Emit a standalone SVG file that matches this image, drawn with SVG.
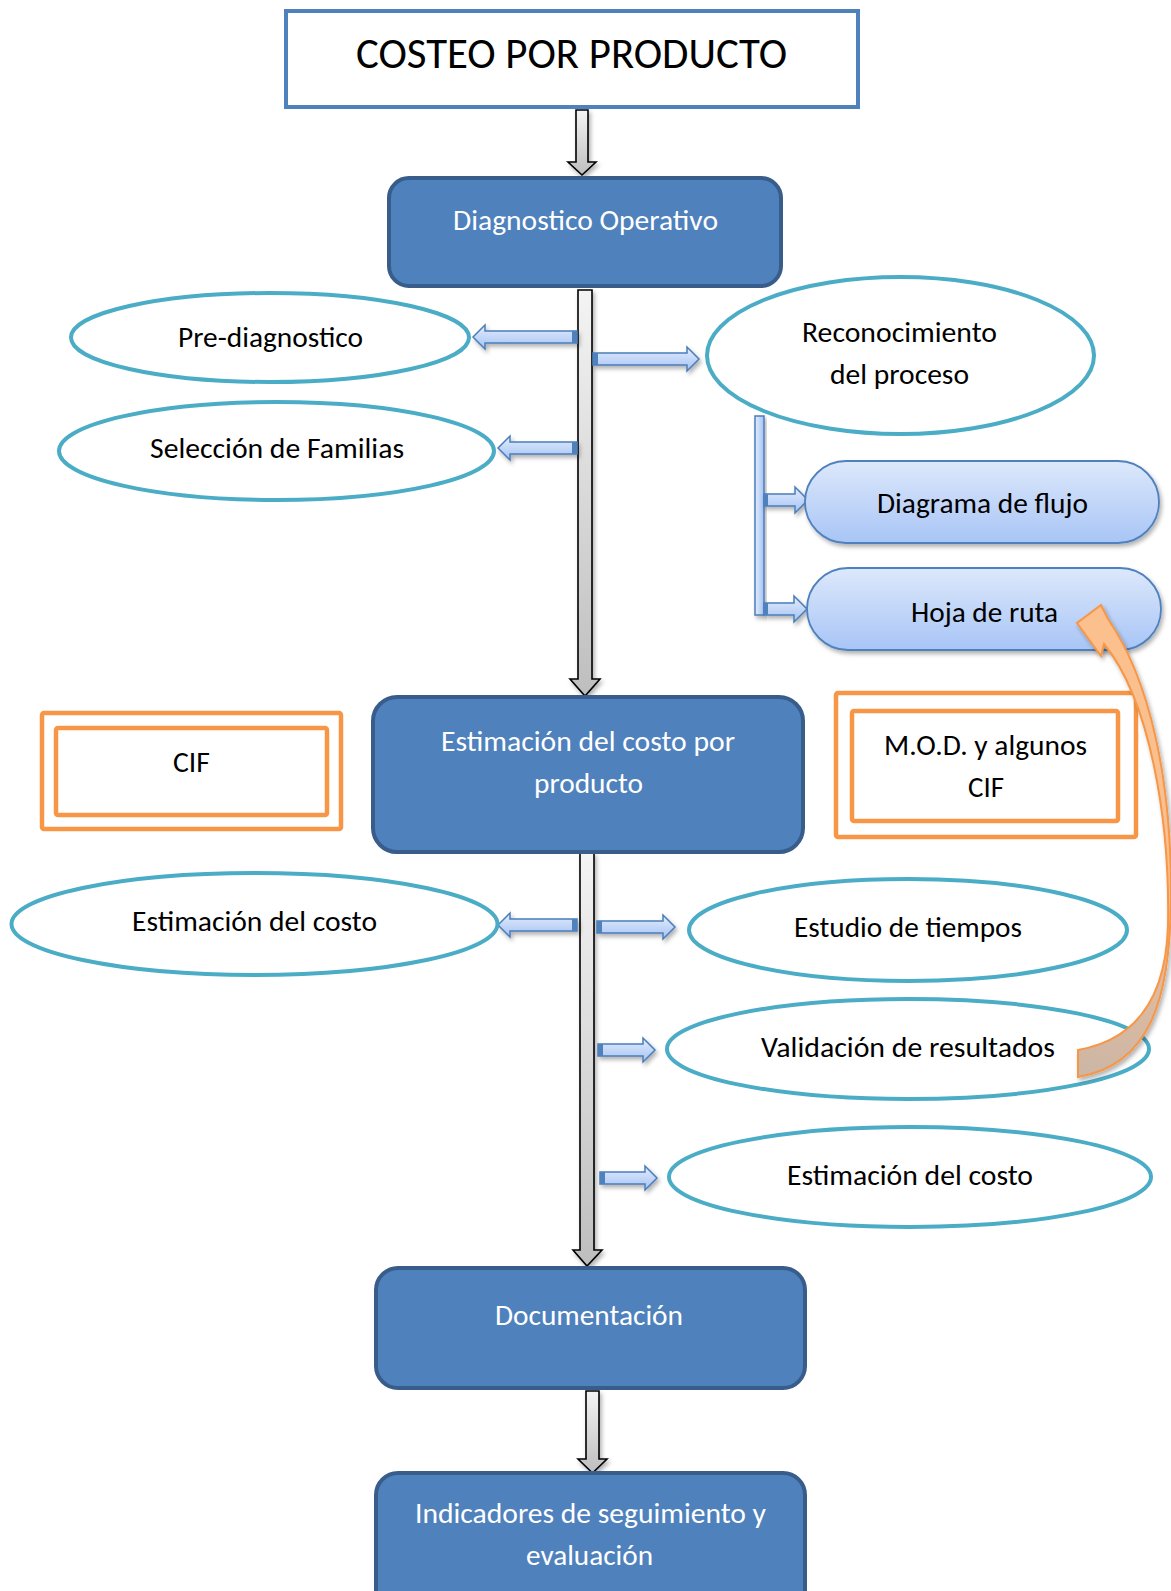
<svg xmlns="http://www.w3.org/2000/svg" width="1171" height="1591" viewBox="0 0 1171 1591">
<style>
.t{font-family:Carlito,Calibri,Lato,"Liberation Sans",sans-serif;font-size:29px;text-anchor:middle;fill:#000}
.w{fill:#fff}
.box{fill:#4F81BD;stroke:#385D8A;stroke-width:4}
.ell{fill:#fff;stroke:#4BACC6;stroke-width:4}
.pill{fill:url(#gPill);stroke:#4F81BD;stroke-width:1.8}
.org{fill:#fff;stroke:#F79646;stroke-width:4.5}
.ba{fill:url(#gBlue);stroke:#4A7EBB;stroke-width:1.5;filter:url(#sh)}
.bt{fill:#4F81BD}
.ga{fill:url(#gGray);stroke:#000;stroke-width:1.6;filter:url(#sh)}
</style>
<defs>
<linearGradient id="gBlue" x1="0" y1="0" x2="0" y2="1"><stop offset="0" stop-color="#E3EDFD"/><stop offset="1" stop-color="#A5C2F3"/></linearGradient>
<linearGradient id="gBlueV" x1="0" y1="0" x2="1" y2="0"><stop offset="0" stop-color="#E3EDFD"/><stop offset="1" stop-color="#A5C2F3"/></linearGradient>
<linearGradient id="gPill" x1="0" y1="0" x2="0" y2="1"><stop offset="0" stop-color="#DDE8FB"/><stop offset="1" stop-color="#A8C5F6"/></linearGradient>
<linearGradient id="gGray" x1="0" y1="0" x2="0" y2="1"><stop offset="0" stop-color="#F4F4F4"/><stop offset="1" stop-color="#BEBEBE"/></linearGradient>
<linearGradient id="gOr" gradientUnits="userSpaceOnUse" x1="0" y1="600" x2="0" y2="1080"><stop offset="0" stop-color="#FBC08D"/><stop offset="0.6" stop-color="#F8BF92"/><stop offset="0.82" stop-color="#DDBA9F"/><stop offset="1" stop-color="#CBB6A6"/></linearGradient>
<filter id="sh" x="-20%" y="-20%" width="150%" height="150%"><feDropShadow dx="2" dy="3" stdDeviation="2" flood-color="#000" flood-opacity="0.3"/></filter>
</defs>

<g id="connectors">
<path class="ga" d="M576,110 H588 V162 H596 L582,175 L568,162 H576 Z"/>
<path class="ga" d="M578,290 H592 V679 H600 L585,696 L570,679 H578 Z"/>
<path class="ga" d="M580,853 H594 V1250 H602 L587,1266 L573,1250 H580 Z"/>
<path class="ga" d="M586,1391 H599 V1459 H607 L592.5,1473 L578,1459 H586 Z"/>

<path class="ba" d="M577,331 H485 V325 L473,337 L485,349 V343 H577 Z"/>
<rect class="bt" x="572" y="331" width="5" height="12"/>
<path class="ba" d="M593,353 H687 V347 L699,359 L687,371 V365 H593 Z"/>
<rect class="bt" x="593" y="353" width="5" height="12"/>
<path class="ba" d="M577,442 H510 V436 L498,448 L510,460 V454 H577 Z"/>
<rect class="bt" x="572" y="442" width="5" height="12"/>

<rect x="755" y="416" width="9" height="199" fill="url(#gBlueV)" stroke="#4A7EBB" stroke-width="1.5" filter="url(#sh)"/>
<path class="ba" d="M764,494 H795 V487 L808,500 L795,513 V506 H764 Z"/>
<rect class="bt" x="764" y="494" width="4" height="12"/>
<path class="ba" d="M764,603 H794 V596 L807,609 L794,622 V615 H764 Z"/>
<rect class="bt" x="764" y="603" width="4" height="12"/>

<path class="ba" d="M577,919 H510 V913 L498,925 L510,937 V931 H577 Z"/>
<rect class="bt" x="572" y="919" width="5" height="12"/>
<path class="ba" d="M597,921 H663 V915 L675,927 L663,939 V933 H597 Z"/>
<rect class="bt" x="597" y="921" width="5" height="12"/>
<path class="ba" d="M598,1044 H643 V1038 L655,1050 L643,1062 V1056 H598 Z"/>
<rect class="bt" x="598" y="1044" width="5" height="12"/>
<path class="ba" d="M600,1172 H645 V1166 L657,1178 L645,1190 V1184 H600 Z"/>
<rect class="bt" x="600" y="1172" width="5" height="12"/>
</g>

<g id="n-title">
<rect x="286" y="11" width="572" height="96" fill="#fff" stroke="#4F81BD" stroke-width="4"/>
<text class="t" x="571.5" y="68" style="font-size:43px" textLength="431" lengthAdjust="spacingAndGlyphs">COSTEO POR PRODUCTO</text>
</g>

<g id="n-diagnostico">
<rect class="box" x="389" y="178" width="392" height="108" rx="20"/>
<text class="t w" x="585.5" y="230" textLength="265" lengthAdjust="spacingAndGlyphs">Diagnostico Operativo</text>
</g>

<g id="n-prediag">
<ellipse class="ell" cx="270" cy="337.5" rx="199" ry="44.5"/>
<text class="t" x="270.5" y="347" textLength="185" lengthAdjust="spacingAndGlyphs">Pre-diagnostico</text>
</g>

<g id="n-seleccion">
<ellipse class="ell" cx="276.5" cy="451" rx="217.5" ry="49"/>
<text class="t" x="277" y="458" textLength="254" lengthAdjust="spacingAndGlyphs">Selección de Familias</text>
</g>

<g id="n-reconocimiento">
<ellipse class="ell" cx="900.5" cy="355.5" rx="193.5" ry="78.5"/>
<text class="t" x="899.5" y="342" textLength="195" lengthAdjust="spacingAndGlyphs">Reconocimiento</text>
<text class="t" x="899.5" y="384" textLength="139" lengthAdjust="spacingAndGlyphs">del proceso</text>
</g>

<g id="n-diagrama">
<rect class="pill" x="805" y="461" width="354" height="82" rx="41" filter="url(#sh)"/>
<text class="t" x="982.5" y="513" textLength="211" lengthAdjust="spacingAndGlyphs">Diagrama de flujo</text>
</g>

<g id="n-hoja">
<rect class="pill" x="807" y="568" width="354" height="82" rx="41" filter="url(#sh)"/>
<text class="t" x="984.5" y="622" textLength="147" lengthAdjust="spacingAndGlyphs">Hoja de ruta</text>
</g>

<g id="n-cif">
<rect class="org" x="42" y="713" width="299" height="116" rx="2"/>
<rect class="org" x="56" y="728" width="271" height="87" rx="2"/>
<text class="t" x="191.5" y="772" textLength="37" lengthAdjust="spacingAndGlyphs">CIF</text>
</g>

<g id="n-estimacion-producto">
<rect class="box" x="373" y="697" width="430" height="155" rx="24"/>
<text class="t w" x="588" y="751" textLength="294" lengthAdjust="spacingAndGlyphs">Estimación del costo por</text>
<text class="t w" x="588.5" y="793" textLength="109" lengthAdjust="spacingAndGlyphs">producto</text>
</g>

<g id="n-mod">
<rect class="org" x="836" y="693" width="300" height="144" rx="2"/>
<rect class="org" x="852" y="711" width="266" height="110" rx="2"/>
<text class="t" x="985.5" y="755" textLength="203" lengthAdjust="spacingAndGlyphs">M.O.D. y algunos</text>
<text class="t" x="986" y="797" textLength="36" lengthAdjust="spacingAndGlyphs">CIF</text>
</g>

<g id="n-estimacion-costo-1">
<ellipse class="ell" cx="254.5" cy="924" rx="243" ry="51"/>
<text class="t" x="254.5" y="931" textLength="245" lengthAdjust="spacingAndGlyphs">Estimación del costo</text>
</g>

<g id="n-estudio">
<ellipse class="ell" cx="908" cy="930" rx="219" ry="51"/>
<text class="t" x="908" y="937" textLength="228" lengthAdjust="spacingAndGlyphs">Estudio de tiempos</text>
</g>

<g id="n-validacion">
<ellipse class="ell" cx="908" cy="1049" rx="241" ry="50"/>
<text class="t" x="908" y="1057" textLength="294" lengthAdjust="spacingAndGlyphs">Validación de resultados</text>
</g>

<g id="n-estimacion-costo-2">
<ellipse class="ell" cx="910" cy="1177" rx="241" ry="50"/>
<text class="t" x="910" y="1185" textLength="246" lengthAdjust="spacingAndGlyphs">Estimación del costo</text>
</g>

<g id="n-documentacion">
<rect class="box" x="376" y="1268" width="429" height="120" rx="22"/>
<text class="t w" x="589" y="1325" textLength="188" lengthAdjust="spacingAndGlyphs">Documentación</text>
</g>

<g id="n-indicadores">
<rect class="box" x="376" y="1473" width="429" height="140" rx="22"/>
<text class="t w" x="590.5" y="1523" textLength="351" lengthAdjust="spacingAndGlyphs">Indicadores de seguimiento y</text>
<text class="t w" x="589.5" y="1565" textLength="127" lengthAdjust="spacingAndGlyphs">evaluación</text>
</g>

<g id="curved-arrow">
<path d="M1078,1050 C1135,1040 1166,1000 1168,925 C1170,820 1150,700 1104,644 L1101,656 L1077,623 L1101,605 L1108,619 C1150,680 1172,780 1171,900 C1170,1000 1150,1065 1078,1077 Z" fill="url(#gOr)" stroke="#F79646" stroke-width="2" stroke-linejoin="miter" filter="url(#sh)"/>
</g>
</svg>
